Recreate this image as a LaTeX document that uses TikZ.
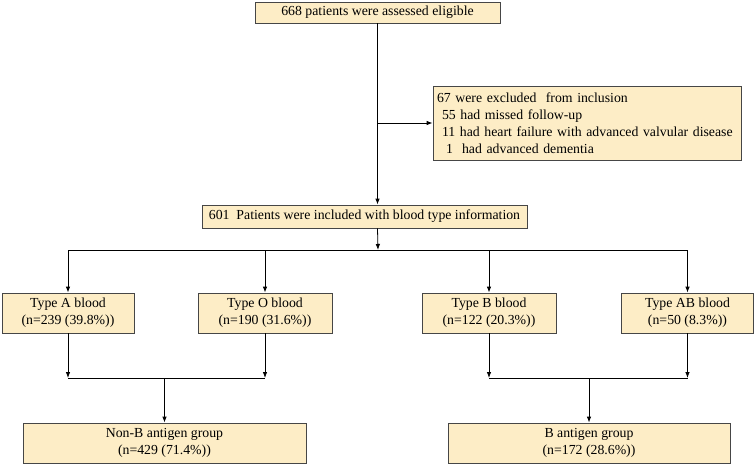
\documentclass[tikz,border=0pt]{standalone}
\usepackage{fontspec}
\setmainfont{Liberation Serif}
\usetikzlibrary{arrows.meta}
\definecolor{boxfill}{RGB}{253,237,198}
\definecolor{boxline}{RGB}{70,70,70}

\begin{document}
\begin{tikzpicture}[
  x=1pt, y=-1pt,
  block/.style={rectangle, draw=boxline, line width=0.8pt, fill=boxfill, align=center, inner sep=2pt, minimum height=40pt, font=\rmfamily\fontsize{13.8}{17}\selectfont},
  line/.style={draw, line width=0.8pt, -{Latex[length=6pt,width=4.5pt]}}
]
    \useasboundingbox (0,0) rectangle (755,464);

    \node [block, minimum width=245pt, minimum height=21pt] (eligible) at (377.5,12.5) {668 patients were assessed eligible};
    \node [block, minimum width=308pt, minimum height=74pt, text width=300pt, align=left] (excluded) at (587,123)
      {67 were excluded\ \ from inclusion\\
       \hspace*{5pt}55 had missed follow-up\\
       \hspace*{5pt}11 had heart failure with advanced valvular disease\\
       \hspace*{9pt}1\ \ had advanced dementia};
    \node [block, minimum width=325pt, minimum height=23pt] (included) at (364.5,216.5) {601\ \ Patients were included with blood type information};

    \node [block, minimum width=132pt] (typeA) at (68,313) {Type A blood\\(n=239 (39.8\%))};
    \node [block, minimum width=134pt] (typeO) at (265,313) {Type O blood\\(n=190 (31.6\%))};
    \node [block, minimum width=134pt] (typeB) at (489,313) {Type B blood\\(n=122 (20.3\%))};
    \node [block, minimum width=132pt] (typeAB) at (687.5,313) {Type AB blood\\(n=50 (8.3\%))};

    \node [block, minimum width=283pt] (nonB) at (164.5,443) {Non-B antigen group\\(n=429 (71.4\%))};
    \node [block, minimum width=282pt] (bgroup) at (589,443) {B antigen group\\(n=172 (28.6\%))};

    \coordinate (split) at (378,250);
    \coordinate (joinL) at (164.5,378);
    \coordinate (joinR) at (588,378);

    \path [line] (eligible.south) -- (eligible.south |- included.north);
    \path [line] (eligible.south |- excluded.west) -- (excluded.west);
    \path [line] (eligible.south |- included.south) -- (split);
    \draw [line width=0.8pt] (typeA.north |- split) -- (typeAB.north |- split);
    \foreach \t in {typeA, typeO, typeB, typeAB}
      \path [line] (\t.north |- split) -- (\t.north);

    \foreach \t in {typeA, typeO}
      \path [line] (\t.south) -- (\t.south |- joinL);
    \draw [line width=0.8pt] (typeA.south |- joinL) -- (typeO.south |- joinL);
    \path [line] (nonB.north |- joinL) -- (nonB.north);

    \foreach \t in {typeB, typeAB}
      \path [line] (\t.south) -- (\t.south |- joinR);
    \draw [line width=0.8pt] (typeB.south |- joinR) -- (typeAB.south |- joinR);
    \path [line] (bgroup.north |- joinR) -- (bgroup.north);
\end{tikzpicture}
\end{document}
